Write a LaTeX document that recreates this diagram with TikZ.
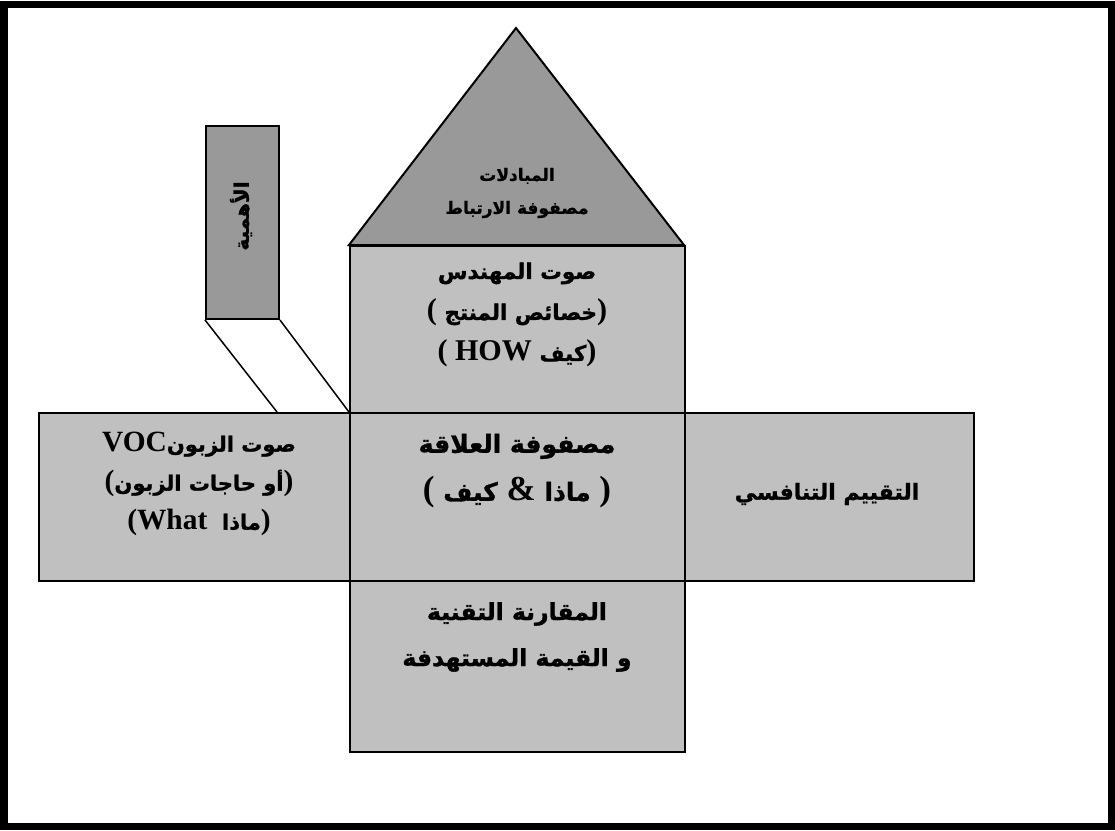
\documentclass[tikz,border=0pt]{standalone}
\usepackage{fontspec}
\setmainfont{Liberation Serif}[Scale=1.4]
\newfontfamily\arabfont[Script=Arabic, BoldFeatures={FakeBold=1.3}]{DejaVu Sans}
\TeXXeTstate=1
\newcommand{\artxt}[1]{{\arabfont\beginR #1\endR}}
\definecolor{lightfill}{HTML}{C0C0C0}
\definecolor{darkfill}{HTML}{999999}
\tikzset{
  box/.style={draw=black, line width=2pt, fill=lightfill, inner sep=0pt, anchor=north west},
  darkbox/.style={box, fill=darkfill},
  label/.style={align=center, font=\bfseries, inner sep=0pt},
  link/.style={draw=black, line width=1.5pt}
}
\begin{document}
\begin{tikzpicture}[x=1pt, y=-1pt]
\useasboundingbox (0,0) rectangle (1115,830);
\fill[white] (0,0) rectangle (1115,830);
% outer frame
\draw[line width=7pt] (4,4) rectangle (1111,826);

% roof of the house
\filldraw[fill=darkfill, draw=black, line width=2pt] (349,245) -- (516,28) -- (684,245) -- cycle;
\node[label, font=\bfseries\fontsize{17}{33}\selectfont] (roof) at (517,193)
  {\artxt{المبادلات}\\ \artxt{مصفوفة الارتباط}};

% house body
\node[box, minimum width=335pt, minimum height=167pt] (how) at (349,245) {};
\node[box, minimum width=311pt, minimum height=168pt] (what) at (38,412) {};
\node[box, minimum width=335pt, minimum height=168pt] (rel) at (349,412) {};
\node[box, minimum width=289pt, minimum height=168pt] (comp) at (684,412) {};
\node[box, minimum width=335pt, minimum height=171pt] (tech) at (349,580) {};

% importance column
\node[darkbox, minimum width=73pt, minimum height=193pt] (imp) at (205,125) {};
\coordinate (whattop) at (277,412);
\draw[link] (imp.south west) -- (whattop);
\draw[link] (imp.south east) -- (rel.north west);
\node[label, rotate=90, font=\bfseries\fontsize{20}{24}\selectfont] (imptxt) at (241,216)
  {\artxt{الأهمية}};

% texts
\node[label, font=\bfseries\fontsize{21.5}{41}\selectfont] (howtxt) at (517,315)
  {\artxt{صوت المهندس}\\
   ( \artxt{خصائص المنتج})\\
   ( HOW \artxt{كيف})};
\node[label, font=\bfseries\fontsize{21}{39}\selectfont] (whattxt) at (199,484)
  {VOC\artxt{صوت الزبون}\\
   (\artxt{أو حاجات الزبون})\\
   (What \ \artxt{ماذا})};
\node[label, font=\bfseries\fontsize{25}{48}\selectfont] (reltxt) at (517,471)
  {\artxt{مصفوفة العلاقة}\\
   ( \artxt{كيف} \& \artxt{ماذا} )};
\node[label, font=\bfseries\fontsize{22}{28}\selectfont] (comptxt) at (827,494)
  {\artxt{التقييم التنافسي}};
\node[label, font=\bfseries\fontsize{23.5}{46}\selectfont] (techtxt) at (517,637)
  {\artxt{المقارنة التقنية}\\
   \artxt{و القيمة المستهدفة}};
\end{tikzpicture}
\end{document}
